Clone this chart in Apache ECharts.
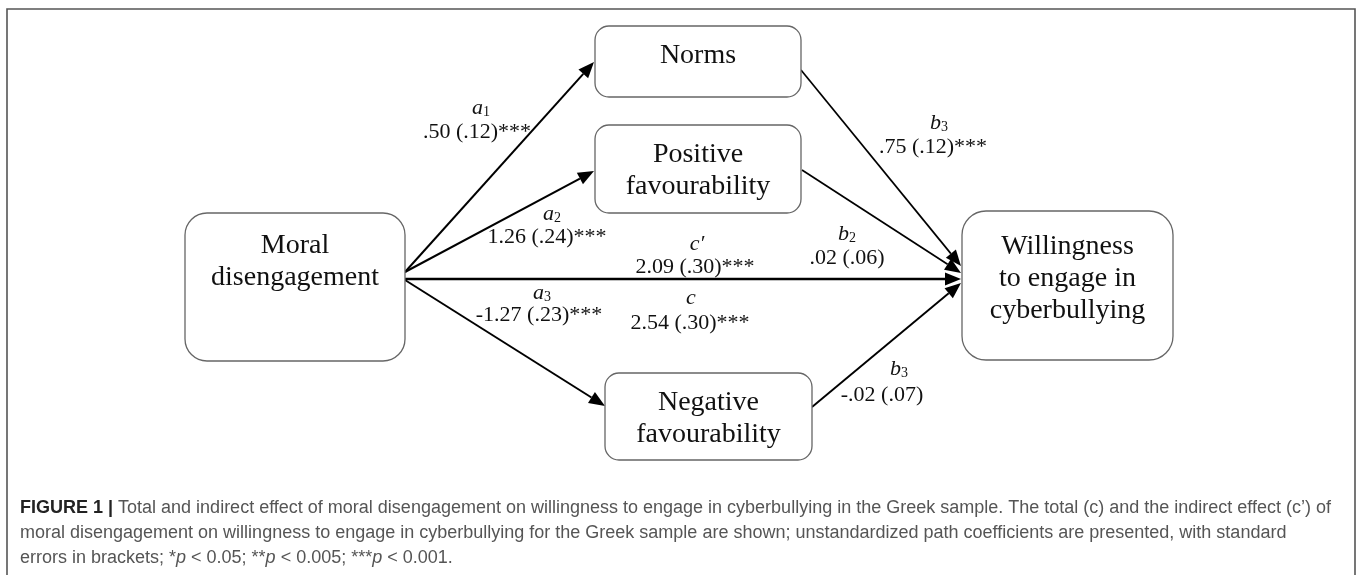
<!DOCTYPE html>
<html>
<head>
<meta charset="utf-8">
<title>Figure 1</title>
<style>
html, body { margin: 0; padding: 0; background: #fff; }
#chart { width: 1358px; height: 575px; }
</style>
<script src="https://cdn.jsdelivr.net/npm/echarts@6/dist/echarts.min.js"></script>
</head>
<body>
<div id="chart"></div>
<script>
// node labels of the path diagram
const nodeLabels = [
    'Moral\ndisengagement',
    'Norms',
    'Positive\nfavourability',
    'Negative\nfavourability',
    'Willingness\nto engage in\ncyberbullying'
];

// path names and coefficients (unstandardized, SE in brackets)
const pathSymbols = ['a1', 'a2', 'a3', 'b3', 'b2', 'b3', "c'", 'c'];
const pathCoefs = ['.50 (.12)***', '1.26 (.24)***', '-1.27 (.23)***', '.75 (.12)***',
    '.02 (.06)', '-.02 (.07)', '2.09 (.30)***', '2.54 (.30)***'];

const captionLines = [
    '{b|FIGURE 1 |} Total and indirect effect of moral disengagement on willingness to engage in cyberbullying in the Greek sample. The total (c) and the indirect effect (c\u2019) of',
    'moral disengagement on willingness to engage in cyberbullying for the Greek sample are shown; unstandardized path coefficients are presented, with standard',
    'errors in brackets; *{p|p} < 0.05; **{p|p} < 0.005; ***{p|p} < 0.001.'
];

// ---- layout (page pixels, y downwards) ----
const nodeBoxes = [
    [185, 213, 405, 361, 22],
    [595, 26, 801, 97, 14],
    [595, 125, 801, 213, 14],
    [605, 373, 812, 460, 14],
    [962, 211, 1173, 360, 24]
];
const nodeTextY = [262, 56, 171, 419, 279];
// from -> to, line width
const edges = [
    [405, 272, 594, 62, 2],
    [405, 272, 594, 171, 2],
    [405, 280, 605, 406, 2],
    [801, 70, 961, 266, 1.7],
    [802, 170, 961, 273, 1.7],
    [812, 407, 961, 283, 1.9],
    [405, 279, 961, 279, 2.6]
];
// symbol x,y then coefficient x,y
const labelPos = [
    [481, 107, 477, 132],
    [552, 213, 547, 237],
    [542, 292, 539, 315],
    [939, 122, 933, 147],
    [847, 233, 847, 258],
    [899, 368, 882, 395],
    [697, 243, 695, 267],
    [691, 297, 690, 323]
];

const SERIF = '"Liberation Serif", "DejaVu Serif", serif';
const SANS = '"Liberation Sans", Arial, sans-serif';
const CAP_SIZE = 18;

function symbolRich(s) {
    if (s.length > 1 && s[1] === "'") return '{i|' + s[0] + '\u2032}';
    if (s.length > 1) return '{i|' + s[0] + '}{s|' + s.slice(1) + '}';
    return '{i|' + s + '}';
}

const chart = echarts.init(document.getElementById('chart'));

const option = {
    animation: false,
    grid: { left: 0, right: 0, top: 0, bottom: 0 },
    xAxis: { type: 'value', min: 0, max: 1358, show: false },
    yAxis: { type: 'value', min: 0, max: 575, inverse: true, show: false },
    graphic: [
        {
            type: 'rect',
            shape: { x: 7, y: 9, width: 1348, height: 600 },
            style: { fill: 'none', stroke: '#555', lineWidth: 1.6 },
            silent: true
        }
    ].concat(captionLines.map((line, i) => ({
        type: 'text',
        x: 20,
        y: 508 + i * 25,
        style: {
            text: line,
            fontFamily: SANS,
            fontSize: CAP_SIZE,
            fill: '#555',
            verticalAlign: 'middle',
            rich: {
                b: { fontWeight: 'bold', fill: '#222', fontFamily: SANS, fontSize: CAP_SIZE },
                p: { fontStyle: 'italic', fill: '#555', fontFamily: SANS, fontSize: CAP_SIZE }
            }
        }
    }))),
    series: [
        {
            // arrows
            type: 'custom',
            coordinateSystem: 'cartesian2d',
            data: edges,
            renderItem: function (params, api) {
                const p1 = api.coord([api.value(0), api.value(1)]);
                const p2 = api.coord([api.value(2), api.value(3)]);
                const lw = api.value(4);
                const ang = Math.atan2(p2[1] - p1[1], p2[0] - p1[0]);
                const len = 16, hw = 6.5;
                const bx = p2[0] - Math.cos(ang) * len;
                const by = p2[1] - Math.sin(ang) * len;
                const nx = -Math.sin(ang) * hw, ny = Math.cos(ang) * hw;
                return {
                    type: 'group',
                    children: [
                        {
                            type: 'line',
                            shape: { x1: p1[0], y1: p1[1], x2: bx, y2: by },
                            style: { stroke: '#000', lineWidth: lw }
                        },
                        {
                            type: 'polygon',
                            shape: { points: [[p2[0], p2[1]], [bx + nx, by + ny], [bx - nx, by - ny]] },
                            style: { fill: '#000' }
                        }
                    ]
                };
            },
            z: 2
        },
        {
            // boxes
            type: 'custom',
            coordinateSystem: 'cartesian2d',
            data: nodeBoxes.map((b, i) => b.concat([nodeTextY[i], i])),
            renderItem: function (params, api) {
                const p1 = api.coord([api.value(0), api.value(1)]);
                const p2 = api.coord([api.value(2), api.value(3)]);
                const ty = api.coord([0, api.value(5)])[1];
                const idx = api.value(6);
                return {
                    type: 'group',
                    children: [
                        {
                            type: 'rect',
                            shape: { x: p1[0], y: p1[1], width: p2[0] - p1[0], height: p2[1] - p1[1], r: api.value(4) },
                            style: { fill: '#fff', stroke: '#666', lineWidth: 1.3 }
                        },
                        {
                            type: 'text',
                            x: (p1[0] + p2[0]) / 2,
                            y: ty,
                            style: {
                                text: nodeLabels[idx],
                                fontFamily: SERIF,
                                fontSize: 28,
                                lineHeight: 32,
                                fill: '#111',
                                align: 'center',
                                verticalAlign: 'middle'
                            }
                        }
                    ]
                };
            },
            z: 3
        },
        {
            // path labels
            type: 'custom',
            coordinateSystem: 'cartesian2d',
            data: labelPos.map((p, i) => p.concat([i])),
            renderItem: function (params, api) {
                const s = api.coord([api.value(0), api.value(1)]);
                const c = api.coord([api.value(2), api.value(3)]);
                const idx = api.value(4);
                return {
                    type: 'group',
                    children: [
                        {
                            type: 'text',
                            x: s[0], y: s[1],
                            style: {
                                text: symbolRich(pathSymbols[idx]),
                                align: 'center',
                                verticalAlign: 'middle',
                                fill: '#111',
                                rich: {
                                    i: { fontFamily: SERIF, fontStyle: 'italic', fontSize: 22, lineHeight: 24, verticalAlign: 'bottom', fill: '#111' },
                                    s: { fontFamily: SERIF, fontSize: 14, lineHeight: 10, verticalAlign: 'bottom', fill: '#111' }
                                }
                            }
                        },
                        {
                            type: 'text',
                            x: c[0], y: c[1],
                            style: {
                                text: pathCoefs[idx],
                                fontFamily: SERIF,
                                fontSize: 22,
                                fill: '#111',
                                align: 'center',
                                verticalAlign: 'middle'
                            }
                        }
                    ]
                };
            },
            z: 4
        }
    ]
};

chart.setOption(option);
</script>
</body>
</html>
